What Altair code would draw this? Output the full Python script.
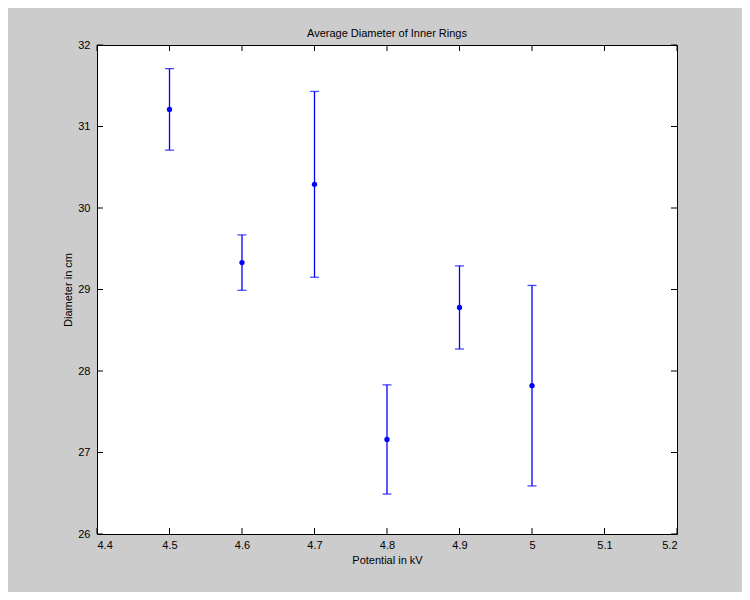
import altair as alt
import pandas as pd

potential = [4.5, 4.6, 4.7, 4.8, 4.9, 5.0]
diameter = [31.21, 29.33, 30.29, 27.16, 28.78, 27.82]
error = [0.50, 0.34, 1.14, 0.67, 0.51, 1.23]
x_ticks = [4.4, 4.5, 4.6, 4.7, 4.8, 4.9, 5.0, 5.1, 5.2]
y_ticks = [26, 27, 28, 29, 30, 31, 32]

W, H = 580, 489
FONT = "Liberation Sans"
BLUE = "#0000ff"

df = pd.DataFrame({"x": potential, "y": diameter, "e": error})
df["lo"] = df["y"] - df["e"]
df["hi"] = df["y"] + df["e"]
xt = pd.DataFrame({"t": x_ticks})
yt = pd.DataFrame({"t": y_ticks})

xscale = alt.Scale(domain=[4.4, 5.2], nice=False, zero=False)
yscale = alt.Scale(domain=[26, 32], nice=False, zero=False)

xaxis = alt.Axis(values=x_ticks, format=".1~f", ticks=False, domain=False, grid=False,
                 labelPadding=5, title="Potential in kV", titlePadding=4)
yaxis = alt.Axis(values=y_ticks, format="d", ticks=False, domain=False, grid=False,
                 labelPadding=7, title="Diameter in cm", titlePadding=4)

base = alt.Chart(df)
bars = base.mark_rule(color=BLUE, strokeWidth=1.3).encode(
    x=alt.X("x:Q", scale=xscale, axis=xaxis),
    y=alt.Y("lo:Q", scale=yscale, axis=yaxis),
    y2="hi:Q",
)
cap_hi = base.mark_tick(color=BLUE, orient="horizontal", size=9, thickness=1.3).encode(
    x="x:Q", y="hi:Q")
cap_lo = base.mark_tick(color=BLUE, orient="horizontal", size=9, thickness=1.3).encode(
    x="x:Q", y="lo:Q")
pts = base.mark_circle(color=BLUE, opacity=1, size=28).encode(x="x:Q", y="y:Q")

tick_bottom = alt.Chart(xt).mark_rule(color="black", strokeWidth=1).encode(
    x="t:Q", y=alt.value(H - 6), y2=alt.value(H))
tick_top = alt.Chart(xt).mark_rule(color="black", strokeWidth=1).encode(
    x="t:Q", y=alt.value(0), y2=alt.value(6))
tick_left = alt.Chart(yt).mark_rule(color="black", strokeWidth=1).encode(
    y="t:Q", x=alt.value(0), x2=alt.value(6))
tick_right = alt.Chart(yt).mark_rule(color="black", strokeWidth=1).encode(
    y="t:Q", x=alt.value(W - 6), x2=alt.value(W))

chart = alt.layer(
    tick_bottom, tick_top, tick_left, tick_right, bars, cap_hi, cap_lo, pts
).properties(
    width=W, height=H,
    title=alt.Title("Average Diameter of Inner Rings", fontSize=11, font=FONT,
                    fontWeight="normal", color="black", offset=0, anchor="middle"),
    padding={"left": 89, "top": 37, "right": 65, "bottom": 58},
    autosize=alt.AutoSizeParams(type="none"),
    background="#cccccc",
).configure_view(
    fill="white", stroke="black", strokeWidth=1
).configure_axis(
    labelFont=FONT, labelFontSize=11, labelColor="black",
    titleFont=FONT, titleFontSize=11, titleColor="black", titleFontWeight="normal",
)

chart.save("out.html", embed_options={"renderer": "svg", "actions": False})
